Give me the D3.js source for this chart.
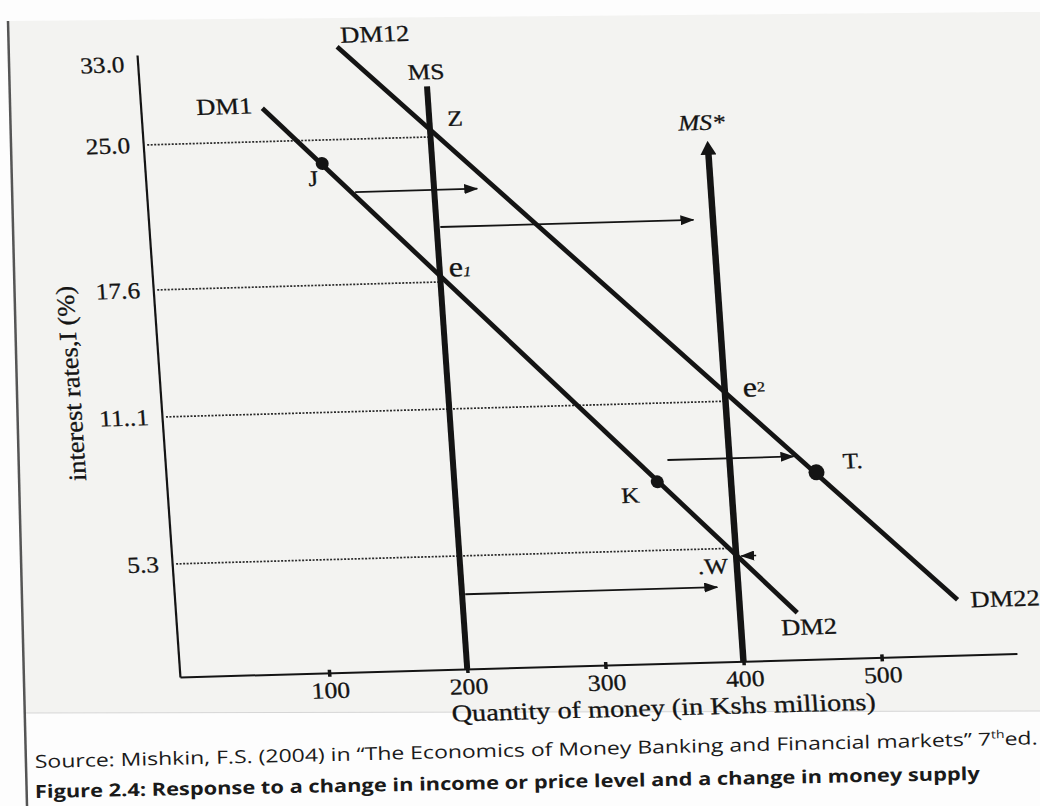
<!DOCTYPE html>
<html>
<head>
<meta charset="utf-8">
<script src="https://cdn.jsdelivr.net/npm/d3@7"></script>
<style>
body { margin: 0; background: #fff; }
svg { display: block; }
</style>
</head>
<body>
<div id="chart"></div>
<script>
"use strict"

let drawingWidth = 1040;
let drawingHeight = 806;

// money supply curves (vertical), quantity in Kshs millions
let msNames = ["MS", "MS*"];
let msQuantity = [200, 400];
let msTop = [30.0, 24.0];

// money demand curves: label at the top end, label at the bottom end
let dmTopLabels = ["DM1", "DM12"];
let dmBottomLabels = ["DM2", "DM22"];
let dmStartQ = [79.9, 137.0];
let dmStartI = [28.3, 33.9];
let dmEndQ = [441.3, 557.8];
let dmEndI = [2.2, 2.6];

// marked points on the demand curves
let pointNames = ["J", "K", "T."];
let pointQ = [120.4, 346.7, 462.2];
let pointI = [23.8, 8.0, 8.2];

// horizontal shift arrows
let arrowFromQ = [142.8, 202.6, 355.1, 202.3];
let arrowToQ = [231.2, 385.9, 446.4, 384.8];
let arrowI = [22.3, 20.4, 8.85, 3.5];

// axes
let rateTicks = [5.3, 11.1, 17.6, 25.0, 33.0];
let rateTickLabels = ["5.3", "11..1", "17.6", "25.0", "33.0"];
let quantityTicks = [100, 200, 300, 400, 500];

// dotted guide lines: rate level and where they stop
let gridRates = [5.3, 11.1, 17.6, 25.0];
let gridEndQ = [400, 400, 200, 200];

let plotW = 837;
let plotH = 622;
let serif = "'Liberation Serif', 'Times New Roman', serif";
let ink = "#141414";

let svg = d3.select("#chart")
    .append("svg")
    .attr("width", drawingWidth)
    .attr("height", drawingHeight);

// scanned page look
svg.append("rect")
    .attr("width", drawingWidth)
    .attr("height", drawingHeight)
    .attr("fill", "#fdfdfd");

svg.append("polygon")
    .attr("points", "8,21 1013,12 1040,12 1040,711 25,713")
    .attr("fill", "#f3f3f1");

svg.append("line")
    .attr("x1", 25).attr("y1", 713)
    .attr("x2", 1040).attr("y2", 711)
    .attr("stroke", "#d6d6d6");

svg.append("line")
    .attr("x1", 8).attr("y1", 21)
    .attr("x2", 27).attr("y2", 806)
    .attr("stroke", "#555")
    .attr("stroke-width", 2.5);

let defs = svg.append("defs");

defs.append("marker")
    .attr("id", "head")
    .attr("viewBox", "0 0 14 10")
    .attr("refX", 13)
    .attr("refY", 5)
    .attr("markerWidth", 14)
    .attr("markerHeight", 10)
    .attr("markerUnits", "userSpaceOnUse")
    .attr("orient", "auto")
    .append("path")
    .attr("d", "M0,0L14,5L0,10Z")
    .attr("fill", ink);

defs.append("marker")
    .attr("id", "bigHead")
    .attr("viewBox", "0 0 14 16")
    .attr("refX", 6)
    .attr("refY", 8)
    .attr("markerWidth", 14)
    .attr("markerHeight", 16)
    .attr("markerUnits", "userSpaceOnUse")
    .attr("orient", "auto")
    .append("path")
    .attr("d", "M0,0L14,8L0,16Z")
    .attr("fill", ink);

// the scan is slightly rotated and sheared
let plot = svg.append("g")
    .attr("transform", "matrix(1,-0.028,0.069,1,137,55)");

let x = d3.scaleLinear()
    .domain([-8, 598])
    .range([0, plotW]);

// hand drawn axis, the rate levels are not evenly spaced
let y = d3.scaleLinear()
    .domain([0, 5.3, 11.1, 17.6, 25.0, 33.0, 33.7])
    .range([plotH, 509, 362, 235, 90, 9, 0]);

// dotted guides
plot.selectAll(".grid")
    .data(gridRates)
    .join("line")
    .attr("class", "grid")
    .attr("x1", 4)
    .attr("x2", (d, i) => x(gridEndQ[i]))
    .attr("y1", d => y(d))
    .attr("y2", d => y(d))
    .attr("stroke", "#2a2a2a")
    .attr("stroke-width", 1.7)
    .attr("stroke-dasharray", "2,1.5");

// axes
let xAxis = plot.append("g")
    .attr("transform", `translate(0,${plotH})`)
    .call(d3.axisBottom(x)
        .tickValues(quantityTicks)
        .tickSizeInner(4)
        .tickSizeOuter(0)
        .tickPadding(5));

xAxis.select(".domain").attr("stroke", ink).attr("stroke-width", 2);
xAxis.selectAll(".tick line")
    .attr("y1", -3)
    .attr("stroke", ink)
    .attr("stroke-width", 3.5);
xAxis.selectAll(".tick text")
    .attr("font-family", serif)
    .attr("font-size", 23)
    .attr("fill", ink)
    .attr("stroke", ink)
    .attr("stroke-width", 0.3)
    .attr("transform", "scale(1.12,1)");

let yAxis = plot.append("g")
    .call(d3.axisLeft(y)
        .tickValues(rateTicks)
        .tickFormat((d, i) => rateTickLabels[i])
        .tickSize(0)
        .tickPadding(12));

yAxis.select(".domain").attr("stroke", ink).attr("stroke-width", 2.2);
yAxis.selectAll(".tick text")
    .attr("font-family", serif)
    .attr("font-size", 23)
    .attr("fill", ink)
    .attr("stroke", ink)
    .attr("stroke-width", 0.3)
    .attr("transform", "scale(1.1,1)");

// axis titles
plot.append("text")
    .attr("x", x(340))
    .attr("y", plotH + 52)
    .attr("text-anchor", "middle")
    .attr("font-family", serif)
    .attr("font-size", 24)
    .attr("fill", ink)
    .attr("stroke", ink)
    .attr("stroke-width", 0.3)
    .attr("textLength", 424)
    .attr("lengthAdjust", "spacingAndGlyphs")
    .text("Quantity of money (in Kshs millions)");

plot.append("text")
    .attr("transform", "translate(-80,326) rotate(-90)")
    .attr("text-anchor", "middle")
    .attr("font-family", serif)
    .attr("font-size", 25)
    .attr("fill", ink)
    .attr("stroke", ink)
    .attr("stroke-width", 0.3)
    .attr("textLength", 195)
    .attr("lengthAdjust", "spacingAndGlyphs")
    .text("interest rates,I (%)");

// demand curves
let dmIdx = d3.range(dmStartQ.length);

plot.selectAll(".dm")
    .data(dmIdx)
    .join("line")
    .attr("class", "dm")
    .attr("x1", i => x(dmStartQ[i]))
    .attr("y1", i => y(dmStartI[i]))
    .attr("x2", i => x(dmEndQ[i]))
    .attr("y2", i => y(dmEndI[i]))
    .attr("stroke", ink)
    .attr("stroke-width", 4.8);

// supply curves
plot.selectAll(".ms")
    .data(d3.range(msQuantity.length))
    .join("line")
    .attr("class", "ms")
    .attr("x1", i => x(msQuantity[i]))
    .attr("x2", i => x(msQuantity[i]))
    .attr("y1", y(0))
    .attr("y2", i => y(msTop[i]))
    .attr("stroke", ink)
    .attr("stroke-width", i => i === 0 ? 6 : 6.5)
    .attr("marker-end", i => i === 1 ? "url(#bigHead)" : null);

// shift arrows
plot.selectAll(".shift")
    .data(d3.range(arrowI.length))
    .join("line")
    .attr("class", "shift")
    .attr("x1", i => x(arrowFromQ[i]))
    .attr("x2", i => x(arrowToQ[i]))
    .attr("y1", i => y(arrowI[i]))
    .attr("y2", i => y(arrowI[i]))
    .attr("stroke", ink)
    .attr("stroke-width", 1.8)
    .attr("marker-end", "url(#head)");

// marked points
plot.selectAll(".pt")
    .data(d3.range(pointQ.length))
    .join("circle")
    .attr("class", "pt")
    .attr("cx", i => x(pointQ[i]))
    .attr("cy", i => y(pointI[i]))
    .attr("r", i => i === 2 ? 8 : 6.5)
    .attr("fill", ink);

// where a demand curve crosses a supply curve
function onDemand(i, q) {
    let x1 = x(dmStartQ[i]), y1 = y(dmStartI[i]);
    let x2 = x(dmEndQ[i]), y2 = y(dmEndI[i]);
    let t = (x(q) - x1) / (x2 - x1);
    return [x(q), y1 + t * (y2 - y1)];
}

function label(txt, pos, dx, dy, anchor, size, style) {
    return plot.append("text")
        .attr("transform", `translate(${pos[0] + dx},${pos[1] + dy}) scale(1.15,1)`)
        .attr("text-anchor", anchor || "start")
        .attr("font-family", serif)
        .attr("font-size", size || 23)
        .attr("font-style", style || "normal")
        .attr("fill", ink)
        .attr("stroke", ink)
        .attr("stroke-width", 0.3)
        .text(txt);
}

let dmStart = dmIdx.map(i => [x(dmStartQ[i]), y(dmStartI[i])]);
let dmEnd = dmIdx.map(i => [x(dmEndQ[i]), y(dmEndI[i])]);

label(dmTopLabels[0], dmStart[0], -10, 5, "end");
label(dmTopLabels[1], dmStart[1], 4, -4);
label(dmBottomLabels[0], dmEnd[0], -17, 22);
label(dmBottomLabels[1], dmEnd[1], 13, 8);

label(msNames[0], [x(msQuantity[0]), y(msTop[0])], 0, -7, "middle", 22);
label(msNames[1], [x(msQuantity[1]), y(msTop[1])], -28, -19, "start", 22, "italic");

let ptPos = d3.range(pointQ.length).map(i => [x(pointQ[i]), y(pointI[i])]);
label(pointNames[0], ptPos[0], -15, 22, "start", 22);
label(pointNames[1], ptPos[1], -37, 20, "start", 22);
label(pointNames[2], ptPos[2], 27, -3, "start", 22);

let zPos = onDemand(1, msQuantity[0]);
let e1Pos = onDemand(0, msQuantity[0]);
let e2Pos = onDemand(1, msQuantity[1]);
let wPos = onDemand(0, msQuantity[1]);

label("Z", zPos, 18, -3, "start", 22);
label(".W", wPos, -39, 18, "start", 22);

let e1 = label("e", e1Pos, 9, 1, "start", 28);
e1.append("tspan").attr("font-size", 14).attr("font-style", "italic").text("1");

let e2 = label("e", e2Pos, 18, 5, "start", 28);
e2.append("tspan").attr("font-size", 14).attr("dy", -5).text("2");

// little pointer at W
plot.append("line")
    .attr("x1", wPos[0] + 20)
    .attr("x2", wPos[0] + 5)
    .attr("y1", wPos[1] + 1)
    .attr("y2", wPos[1] + 1)
    .attr("stroke", ink)
    .attr("stroke-width", 1.5)
    .attr("marker-end", "url(#head)");

// source and caption below the scan
let src = svg.append("text")
    .attr("transform", "translate(35,768) rotate(-1.35)")
    .attr("font-family", "'Open Sans', 'Noto Sans', sans-serif")
    .attr("font-size", 18)
    .attr("fill", "#1a1a1a")
    .attr("textLength", 1003)
    .attr("lengthAdjust", "spacingAndGlyphs");
src.append("tspan").text("Source: Mishkin, F.S. (2004) in “The Economics of Money Banking and Financial markets” 7");
src.append("tspan").attr("dy", -7).attr("font-size", 11).text("th");
src.append("tspan").attr("dy", 7).text("ed.");

svg.append("text")
    .attr("transform", "translate(35,798) rotate(-1.1)")
    .attr("font-family", "'Open Sans', 'Noto Sans', sans-serif")
    .attr("font-size", 18)
    .attr("font-weight", "bold")
    .attr("fill", "#1a1a1a")
    .attr("textLength", 945)
    .attr("lengthAdjust", "spacingAndGlyphs")
    .text("Figure 2.4: Response to a change in income or price level and a change in money supply");
</script>
</body>
</html>
